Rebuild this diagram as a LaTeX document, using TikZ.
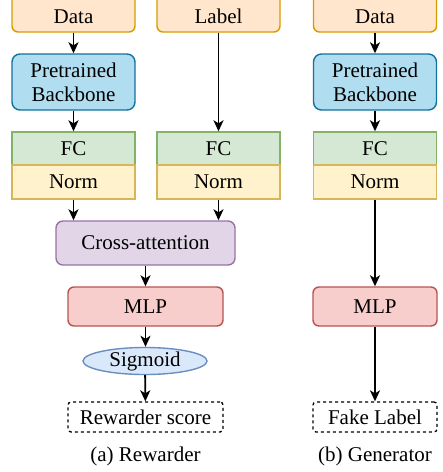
\documentclass[tikz,border=0pt]{standalone}
\usepackage{fontspec}
\setmainfont{Liberation Serif}
\usetikzlibrary{arrows.meta,shapes.geometric}
\definecolor{dataF}{HTML}{FFE6CC}\definecolor{dataD}{HTML}{D79B00}
\definecolor{bbF}{HTML}{B1DDF0}\definecolor{bbD}{HTML}{10739E}
\definecolor{fcF}{HTML}{D5E8D4}\definecolor{fcD}{HTML}{82B366}
\definecolor{nmF}{HTML}{FFF2CC}\definecolor{nmD}{HTML}{D6B656}
\definecolor{caF}{HTML}{E1D5E7}\definecolor{caD}{HTML}{9673A6}
\definecolor{mlpF}{HTML}{F8CECC}\definecolor{mlpD}{HTML}{B85450}
\definecolor{sgF}{HTML}{DAE8FC}\definecolor{sgD}{HTML}{6C8EBF}
\begin{document}
\begin{tikzpicture}[x=1pt,y=-1pt,
  every node/.style={font=\rmfamily\fontsize{21}{24}\selectfont},
  box/.style={draw,line width=1.4pt,minimum width=123pt,inner sep=0pt,align=center},
  databox/.style={box,fill=dataF,draw=dataD,rounded corners=6pt,minimum height=40pt,text height=23pt,text depth=0pt},
  bbbox/.style={box,fill=bbF,draw=bbD,rounded corners=8pt,minimum height=56pt},
  fcbox/.style={box,fill=fcF,draw=fcD,minimum height=33pt},
  nmbox/.style={box,fill=nmF,draw=nmD,minimum height=34pt},
  cabox/.style={box,fill=caF,draw=caD,rounded corners=7pt,minimum height=44pt,minimum width=179pt},
  mlpbox/.style={box,fill=mlpF,draw=mlpD,rounded corners=6pt,minimum height=39pt,minimum width=155pt},
  sgnode/.style={ellipse,draw=sgD,fill=sgF,line width=1.4pt,minimum width=124pt,minimum height=26pt,inner sep=0pt},
  outbox/.style={draw,dashed,line width=1.3pt,rounded corners=3pt,minimum height=30pt,minimum width=155pt,inner sep=0pt},
  captext/.style={inner sep=0pt},
  arr/.style={-{Stealth[length=11pt,width=10pt,inset=3pt]},line width=1.8pt}
]
\useasboundingbox (0,0) rectangle (443,472);
% column a1
\node[databox] (d1) at (73.5,12) {Data};
\node[bbbox] (b1) at (73.5,82) {Pretrained\\Backbone};
\node[fcbox] (f1) at (73.5,148.5) {FC};
\node[nmbox] (n1) at (73.5,182) {Norm};
% column a2
\node[databox] (lb) at (218.5,12) {Label};
\node[fcbox] (f2) at (218.5,148.5) {FC};
\node[nmbox] (n2) at (218.5,182) {Norm};
% rewarder
\node[cabox] (ca) at (145.5,243) {Cross-attention};
\node[mlpbox] (m1) at (145.5,306.5) {MLP};
\node[sgnode] (sg) at (145,361) {Sigmoid};
\node[outbox] (rs) at (145.5,417) {Rewarder score};
\node[captext] (capa) at (145.5,456) {(a) Rewarder};
% generator
\node[databox] (d3) at (375,12) {Data};
\node[bbbox] (b3) at (375,82) {Pretrained\\Backbone};
\node[fcbox] (f3) at (375,148.5) {FC};
\node[nmbox] (n3) at (375,182) {Norm};
\node[mlpbox,minimum width=124pt] (m3) at (375,306.5) {MLP};
\node[outbox,minimum width=124pt] (fl) at (375,417) {Fake Label};
\node[captext] (capb) at (375,456) {(b) Generator};
% arrows
\draw[arr] (d1) -- (b1);
\draw[arr] (b1) -- (f1);
\draw[arr] (lb) -- (f2);
\draw[arr] (n1.south) -- (n1.south |- ca.north);
\draw[arr] (n2.south) -- (n2.south |- ca.north);
\draw[arr] (ca) -- (m1);
\draw[arr] (m1.south) -- (m1.south |- sg.north);
\draw[arr] (sg) -- (rs);
\draw[arr] (d3) -- (b3);
\draw[arr] (b3) -- (f3);
\draw[arr] (n3) -- (m3);
\draw[arr] (m3) -- (fl);
\end{tikzpicture}
\end{document}
